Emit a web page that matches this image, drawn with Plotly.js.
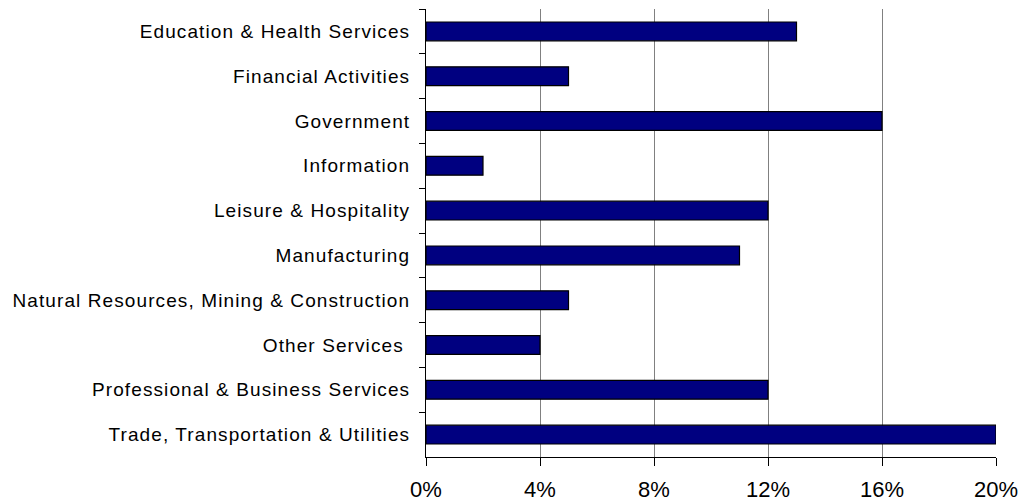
<!DOCTYPE html>
<html>
<head>
<meta charset="utf-8">
<script src="https://cdn.plot.ly/plotly-3.0.1.min.js"></script>
<style>
html,body{margin:0;padding:0;background:#fff;}
#chart{width:1021px;height:504px;}
#chart .ytick text{letter-spacing:1.1px;}
</style>
</head>
<body>
<div id="chart"></div>
<script>
const categories = [
  "Education & Health Services",
  "Financial Activities",
  "Government",
  "Information",
  "Leisure & Hospitality",
  "Manufacturing",
  "Natural Resources, Mining & Construction",
  "Other Services\u00a0",
  "Professional & Business Services",
  "Trade, Transportation & Utilities"
];
const shares = [0.13, 0.05, 0.16, 0.02, 0.12, 0.11, 0.05, 0.04, 0.12, 0.20];
const xTickValues = [0, 0.04, 0.08, 0.12, 0.16, 0.20];

const trace = {
  type: 'bar',
  orientation: 'h',
  y: categories,
  x: shares,
  marker: {color: '#000080', line: {color: '#000000', width: 1.2}},
  hoverinfo: 'x+y'
};

const layout = {
  width: 1021, height: 504,
  margin: {l: 426, r: 25, t: 9, b: 47},
  paper_bgcolor: '#ffffff', plot_bgcolor: '#ffffff',
  showlegend: false,
  bargap: 0.58,
  font: {family: 'Liberation Sans, Arial, sans-serif', color: '#000000'},
  xaxis: {
    range: [0, 0.20],
    tickvals: xTickValues,
    tickformat: '.0%',
    showgrid: true, gridcolor: '#808080', gridwidth: 1,
    zeroline: false,
    showline: true, linecolor: '#000000', linewidth: 1,
    ticks: 'outside', ticklen: 8, tickcolor: '#000000',
    ticklabelstandoff: 5,
    tickfont: {size: 22, family: 'Liberation Sans, Arial, sans-serif', color: '#000000'}
  },
  yaxis: {
    type: 'category',
    autorange: 'reversed',
    showgrid: false, zeroline: false,
    showline: true, linecolor: '#000000', linewidth: 1,
    ticks: 'outside', ticklen: 6, tickcolor: '#000000',
    tickson: 'boundaries',
    ticklabelstandoff: 11,
    tickfont: {size: 19, family: 'Liberation Sans, Arial, sans-serif', color: '#000000'}
  }
};

Plotly.newPlot('chart', [trace], layout, {displayModeBar: false, staticPlot: true});
</script>
</body>
</html>
